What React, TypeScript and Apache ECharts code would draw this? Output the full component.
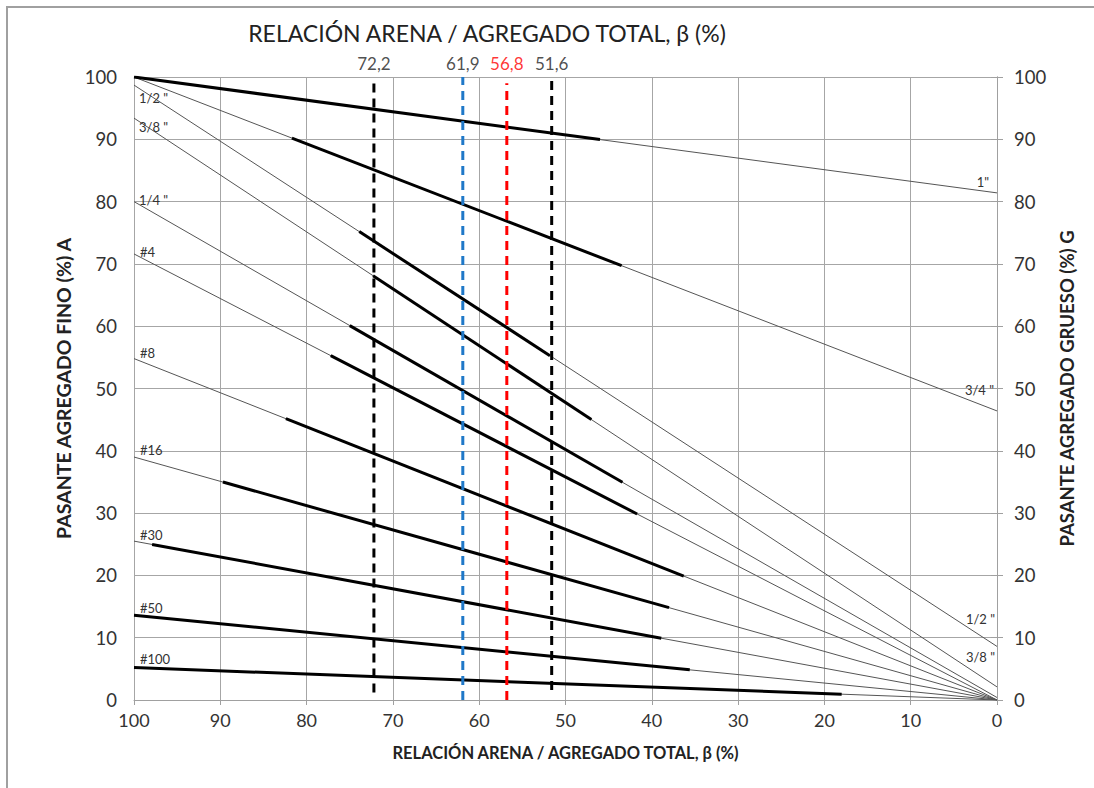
import React, { useEffect, useRef } from "react";
import * as echarts from "echarts";

// Sieve lines: passing % of fine aggregate (A, at beta = 100) and coarse aggregate (G, at beta = 0)
const sieves = ['1"', '3/4"', '1/2"', '3/8"', '1/4"', '#4', '#8', '#16', '#30', '#50', '#100'];
const fineA = [100, 100, 98.7, 93.4, 80.0, 71.6, 54.8, 39.0, 25.5, 13.6, 5.2];
const coarseG = [81.4, 46.4, 8.6, 2.1, 0.4, 0, 0, 0, 0, 0, 0];
// Range of beta (%) over which each sieve line is drawn thick (specification band)
const thickFrom = [100, 81.7, 73.9, 72.3, 75.0, 77.2, 82.4, 89.7, 97.9, 100, 100];
const thickTo = [46.0, 43.5, 51.8, 47.0, 43.4, 41.7, 36.3, 38.0, 38.9, 35.6, 18.0];

// Vertical reference lines (beta %)
const refBeta = [72.2, 61.9, 56.8, 51.6];
const refLabels = ["72,2", "61,9", "56,8", "51,6"];
const refColors = ["#000000", "#1f78c8", "#ff0000", "#000000"];
const refLabelColors = ["#222222", "#222222", "#ff0000", "#222222"];
const refBottom = [1.2, 0, 0, 1.6];
const refTop = [99.5, 100, 99, 100];

const FONT = "Lato, 'Open Sans', sans-serif";

// Line label positions (pixel layout)
const leftLabelPos: Array<[string, number, number]> = [
  ['1/2 "', 139, 98],
  ['3/8 "', 139, 127],
  ['1/4 "', 139, 200],
  ["#4", 140, 252],
  ["#8", 140, 353],
  ["#16", 140, 450],
  ["#30", 140, 535],
  ["#50", 140, 608],
  ["#100", 140, 659],
];
const rightLabelPos: Array<[string, number, number]> = [
  ['1"', 989, 182],
  ['3/4 "', 994, 390],
  ['1/2 "', 995, 619],
  ['3/8 "', 995, 657],
];

function valueAt(i: number, beta: number) {
  return coarseG[i] + ((fineA[i] - coarseG[i]) * beta) / 100;
}

export default function App() {
  const ref = useRef<HTMLDivElement>(null);
  useEffect(() => {
    if (!ref.current) return;
    const chart = echarts.init(ref.current, null, { renderer: "svg" });
    const series: any[] = [];
    sieves.forEach((name, i) => {
      series.push({
        type: "line",
        name: name + " thin",
        data: [
          [100, fineA[i]],
          [0, coarseG[i]],
        ],
        symbol: "none",
        silent: true,
        lineStyle: { color: "#555555", width: 1 },
        z: 2,
      });
      series.push({
        type: "line",
        name: name + " thick",
        data: [
          [thickFrom[i], valueAt(i, thickFrom[i])],
          [thickTo[i], valueAt(i, thickTo[i])],
        ],
        symbol: "none",
        silent: true,
        lineStyle: { color: "#000000", width: 3 },
        z: 3,
      });
    });
    refBeta.forEach((b, k) => {
      series.push({
        type: "line",
        name: "ref " + refLabels[k],
        data: [
          [b, refBottom[k]],
          [b, refTop[k]],
        ],
        symbol: "none",
        silent: true,
        lineStyle: { color: refColors[k], width: 3, type: [9, 6] },
        z: 4,
      });
    });
    series.push({
      type: "scatter",
      name: "ref labels",
      silent: true,
      clip: false,
      symbolSize: 1,
      itemStyle: { color: "rgba(0,0,0,0)" },
      data: refBeta.map((b, k) => ({
        value: [b, 100],
        label: {
          show: true,
          position: "top",
          distance: 5,
          formatter: refLabels[k],
          color: refLabelColors[k],
          fontSize: 17,
          fontFamily: FONT,
        },
      })),
      z: 5,
    });

    const labelText = (arr: Array<[string, number, number]>, align: string) =>
      arr.map(([t, x, y]) => ({
        type: "text",
        x,
        y,
        style: {
          text: t,
          fill: "#333333",
          font: `13px ${FONT}`,
          textAlign: align,
          textVerticalAlign: "middle",
        },
        z: 10,
      }));

    const option: any = {
      animation: false,
      backgroundColor: "#ffffff",
      title: {
        text: "RELACIÓN ARENA / AGREGADO TOTAL, β (%)",
        left: 482,
        textAlign: "center",
        top: 16,
        textStyle: { fontSize: 23, fontWeight: "normal", color: "#222222", fontFamily: FONT },
      },
      grid: { left: 134, right: 97, top: 77, bottom: 88, containLabel: false },
      xAxis: {
        type: "value",
        inverse: true,
        min: 0,
        max: 100,
        interval: 10,
        name: "RELACIÓN ARENA / AGREGADO TOTAL, β (%)",
        nameLocation: "middle",
        nameGap: 44,
        nameTextStyle: { fontSize: 16.5, fontWeight: "bold", color: "#222222", fontFamily: FONT },
        axisLine: { show: true, lineStyle: { color: "#a0a0a0", width: 1 } },
        axisTick: { show: true, length: 5, lineStyle: { color: "#a0a0a0" } },
        axisLabel: { fontSize: 18, color: "#333333", fontFamily: FONT, margin: 11 },
        splitLine: { show: true, lineStyle: { color: "#a6a6a6", width: 1 } },
      },
      yAxis: [
        {
          type: "value",
          min: 0,
          max: 100,
          interval: 10,
          position: "left",
          name: "PASANTE AGREGADO FINO (%) A",
          nameLocation: "middle",
          nameGap: 50,
          nameRotate: 90,
          nameTextStyle: { fontSize: 19.5, fontWeight: "bold", color: "#222222", fontFamily: FONT },
          axisLine: { show: true, lineStyle: { color: "#a0a0a0" } },
          axisTick: { show: true, length: 6, lineStyle: { color: "#a0a0a0" } },
          axisLabel: { fontSize: 18.5, color: "#333333", fontFamily: FONT, margin: 17 },
          splitLine: { show: true, lineStyle: { color: "#a6a6a6", width: 1 } },
        },
        {
          type: "value",
          min: 0,
          max: 100,
          interval: 10,
          position: "right",
          name: "PASANTE AGREGADO GRUESO (%) G",
          nameLocation: "middle",
          nameGap: 54,
          nameRotate: 90,
          nameTextStyle: { fontSize: 18.5, fontWeight: "bold", color: "#222222", fontFamily: FONT },
          axisLine: { show: true, lineStyle: { color: "#a0a0a0" } },
          axisTick: { show: true, length: 6, lineStyle: { color: "#a0a0a0" } },
          axisLabel: { fontSize: 18.5, color: "#333333", fontFamily: FONT, margin: 17 },
          splitLine: { show: false },
        },
      ],
      graphic: [
        {
          type: "rect",
          shape: { x: 7, y: 7, width: 1110, height: 810 },
          style: { fill: "none", stroke: "#a0a0a0", lineWidth: 2 },
          silent: true,
          z: 0,
        },
        ...labelText(leftLabelPos, "left"),
        ...labelText(rightLabelPos, "right"),
      ],
      series,
    };
    chart.setOption(option);
    return () => chart.dispose();
  }, []);
  return (
    <div
      ref={ref}
      style={{ position: "fixed", left: 0, top: 0, width: 1094, height: 788, background: "#fff" }}
    />
  );
}
